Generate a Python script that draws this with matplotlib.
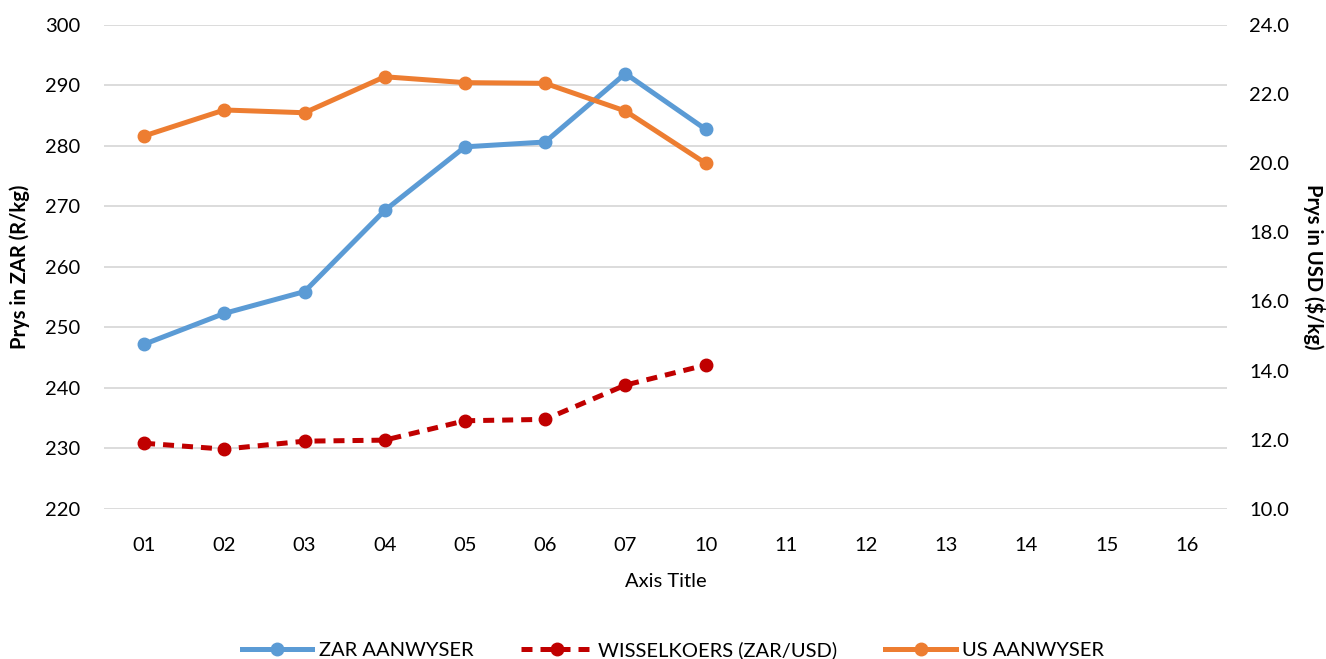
import matplotlib.pyplot as plt
from matplotlib.lines import Line2D

plt.rcParams['font.family'] = ['Lato', 'DejaVu Sans']

# data
months = ['01', '02', '03', '04', '05', '06', '07', '10', '11', '12', '13', '14', '15', '16']
zar_index = [247.2, 252.3, 255.9, 269.3, 279.8, 280.6, 291.9, 282.7]
exchange_rate = [11.90, 11.73, 11.96, 11.99, 12.55, 12.59, 13.58, 14.16]
us_index = [20.78, 21.53, 21.45, 22.49, 22.32, 22.30, 21.50, 19.99]

blue = '#5B9BD5'
red = '#C00000'
orange = '#ED7D31'
grid_col = '#D9D9D9'
fs = 14.5

fig = plt.figure(figsize=(13.26, 6.59), dpi=100)
ax = fig.add_axes([104 / 1326, 1 - 509 / 659, (1227 - 104) / 1326, (509 - 24.5) / 659])
ax2 = ax.twinx()

x = list(range(len(months)))
n = len(zar_index)

ax.plot(x[:n], zar_index, color=blue, lw=3.6, marker='o', ms=9, zorder=3)
ax2.plot(x[:n], exchange_rate, color=red, lw=3.6, ls=(0, (2.2, 1.6)), marker='o', ms=9, zorder=3)
ax2.plot(x[:n], us_index, color=orange, lw=3.6, marker='o', ms=9, zorder=3)

ax.set_xlim(-0.5, len(months) - 0.5)
ax.set_ylim(220, 300)
ax.set_yticks(range(220, 301, 10))
ax2.set_ylim(10, 24)
ax2.set_yticks(range(10, 25, 2))
ax2.set_yticklabels([f'{v:.1f}' for v in range(10, 25, 2)])
ax.set_xticks(x)
ax.set_xticklabels(months)

ax.grid(axis='y', color=grid_col, lw=1.3)
ax.set_axisbelow(True)
for a in (ax, ax2):
    for s in a.spines.values():
        s.set_visible(False)
    a.tick_params(length=0, labelsize=fs, colors='#000000')
ax.tick_params(axis='y', pad=17)
ax.tick_params(axis='x', pad=20)
ax2.tick_params(axis='y', pad=16)

ax.set_ylabel('Prys in ZAR (R/kg)', fontsize=fs, fontweight='bold', labelpad=11)
ax2.set_ylabel('Prys in USD ($/kg)', fontsize=fs, fontweight='bold', rotation=270, labelpad=26)
ax.set_xlabel('Axis Title', fontsize=fs, labelpad=14)

handles = [
    Line2D([], [], color=blue, lw=3.6, marker='o', ms=9),
    Line2D([], [], color=red, lw=3.6, ls=(0, (2.2, 1.6)), marker='o', ms=9),
    Line2D([], [], color=orange, lw=3.6, marker='o', ms=9),
]
labels = ['ZAR AANWYSER', 'WISSELKOERS (ZAR/USD)', 'US AANWYSER']
fig.legend(handles, labels, loc='center', bbox_to_anchor=(673 / 1326, 1 - 650 / 659),
           ncol=3, frameon=False, fontsize=fs, handlelength=3.5, handletextpad=0.3,
           columnspacing=2.4)

fig.savefig('out.png', dpi=100)
